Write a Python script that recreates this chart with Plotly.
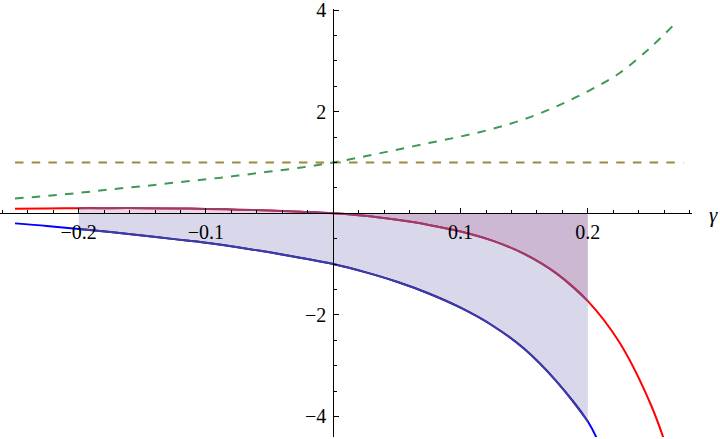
import plotly.graph_objects as go

# ---------------- data ----------------
gamma_red = [-0.25, -0.225, -0.2, -0.175, -0.15, -0.125, -0.1, -0.075, -0.05, -0.025, 0.0,
             0.025, 0.05, 0.075, 0.1, 0.125, 0.15, 0.175, 0.2, 0.225, 0.25, 0.265]
red_vals = [0.09, 0.095, 0.10, 0.10, 0.10, 0.095, 0.085, 0.07, 0.055, 0.03, 0.0,
            -0.05, -0.13, -0.23, -0.36, -0.54, -0.80, -1.18, -1.73, -2.55, -3.80, -4.85]

gamma_blue = [-0.25, -0.225, -0.2, -0.175, -0.15, -0.125, -0.1, -0.075, -0.05, -0.025, 0.0,
              0.025, 0.05, 0.075, 0.1, 0.125, 0.15, 0.175, 0.2, 0.21]
blue_vals = [-0.20, -0.25, -0.31, -0.37, -0.44, -0.51, -0.58, -0.67, -0.77, -0.88, -1.0,
             -1.16, -1.35, -1.58, -1.86, -2.21, -2.67, -3.30, -4.10, -4.60]

gamma_green = [-0.25, -0.225, -0.2, -0.175, -0.15, -0.125, -0.1, -0.075, -0.05, -0.025, 0.0,
               0.025, 0.05, 0.075, 0.1, 0.125, 0.15, 0.175, 0.2, 0.225, 0.25, 0.268]
green_vals = [0.29, 0.34, 0.40, 0.47, 0.53, 0.60, 0.667, 0.74, 0.82, 0.90, 1.0,
              1.12, 1.25, 1.38, 1.51, 1.66, 1.85, 2.10, 2.40, 2.76, 3.28, 3.72]

gamma_olive = [-0.25, 0.275]
olive_vals = [1.0, 1.0]

fill_range = (-0.2, 0.2)

x_major = [-0.2, -0.1, 0.1, 0.2]
x_major_text = ["\u22120.2", "\u22120.1", "0.1", "0.2"]
x_minor = [-0.26, -0.24, -0.22, -0.18, -0.16, -0.14, -0.12, -0.08, -0.06, -0.04, -0.02,
           0.02, 0.04, 0.06, 0.08, 0.12, 0.14, 0.16, 0.18, 0.22, 0.24, 0.26, 0.28]
y_major = [-4, -2, 2, 4]
y_major_text = ["\u22124", "\u22122", "2", "4"]
y_minor = [-4.0, -3.5, -3.0, -2.5, -1.5, -1.0, -0.5, 0.5, 1.0, 1.5, 2.5, 3.0, 3.5]

# ---------------- styles ----------------
W, H = 720, 439
PX_PER_Y = 50.8
X_RANGE = [-0.2618, 0.2818]
Y_RANGE = [-4.405, 4.02]
X_DOMAIN = [0.0, 692 / W]
Y_DOMAIN = [1 - 437 / H, 1 - (10 - 0.02 * PX_PER_Y) / H]

M_BLUE = "rgb(63,61,153)"
M_PURPLE = "rgb(153,61,113)"
M_OLIVE = "rgb(153,139,61)"
M_GREEN = "rgb(61,153,86)"

FONT = "Liberation Serif, Times New Roman, serif"
DASH = "8.5px,8.2px"
TICK_SIZE = 20


def subset(xs, ys, lo, hi):
    px, py = [], []
    for x, y in zip(xs, ys):
        if lo - 1e-9 <= x <= hi + 1e-9:
            px.append(x)
            py.append(y)
    return px, py


fig = go.Figure()

# full-range curves
fig.add_trace(go.Scatter(x=gamma_red, y=red_vals, mode="lines", line_shape="spline",
                         line=dict(color="#ff0000", width=2), showlegend=False))
fig.add_trace(go.Scatter(x=gamma_blue, y=blue_vals, mode="lines", line_shape="spline",
                         line=dict(color="#0000ff", width=2), showlegend=False))
fig.add_trace(go.Scatter(x=gamma_olive, y=olive_vals, mode="lines",
                         line=dict(color=M_OLIVE, width=2, dash=DASH), showlegend=False))
fig.add_trace(go.Scatter(x=gamma_green, y=green_vals, mode="lines", line_shape="spline",
                         line=dict(color=M_GREEN, width=2, dash=DASH), showlegend=False))

# filled part over the restricted range
bx, by = subset(gamma_blue, blue_vals, *fill_range)
rx, ry = subset(gamma_red, red_vals, *fill_range)
fig.add_trace(go.Scatter(x=bx, y=by, mode="lines", line_shape="spline", fill="tozeroy",
                         fillcolor="rgba(63,61,153,0.2)",
                         line=dict(color=M_BLUE, width=2), showlegend=False))
fig.add_trace(go.Scatter(x=rx, y=ry, mode="lines", line_shape="spline", fill="tozeroy",
                         fillcolor="rgba(153,61,113,0.2)",
                         line=dict(color=M_PURPLE, width=2), showlegend=False))

x_pos = (0 - X_RANGE[0]) / (X_RANGE[1] - X_RANGE[0]) * (X_DOMAIN[1] - X_DOMAIN[0]) + X_DOMAIN[0]
y_pos = (0 - Y_RANGE[0]) / (Y_RANGE[1] - Y_RANGE[0]) * (Y_DOMAIN[1] - Y_DOMAIN[0]) + Y_DOMAIN[0]

fig.update_layout(
    width=W, height=H,
    margin=dict(l=0, r=0, t=0, b=0, pad=0, autoexpand=False),
    paper_bgcolor="white", plot_bgcolor="white",
    font=dict(family=FONT, size=TICK_SIZE, color="black"),
    hovermode=False,
    xaxis=dict(range=X_RANGE, domain=X_DOMAIN, anchor="free", position=y_pos,
               automargin=False, ticklabeloverflow="allow",
               showgrid=False, zeroline=False, showline=True, linecolor="black", linewidth=1,
               tickmode="array", tickvals=x_major, ticktext=x_major_text,
               ticks="inside", ticklen=5, tickwidth=1, tickcolor="black",
               ticklabelstandoff=1,
               minor=dict(tickmode="array", tickvals=x_minor, ticks="inside", ticklen=3,
                          tickwidth=1, tickcolor="black", showgrid=False),
               tickfont=dict(family=FONT, size=TICK_SIZE, color="black")),
    yaxis=dict(range=Y_RANGE, domain=Y_DOMAIN, anchor="free", position=x_pos,
               automargin=False, ticklabeloverflow="allow",
               showgrid=False, zeroline=False, showline=True, linecolor="black", linewidth=1,
               tickmode="array", tickvals=y_major, ticktext=y_major_text,
               ticks="inside", ticklen=5, tickwidth=1, tickcolor="black",
               ticklabelstandoff=3,
               minor=dict(tickmode="array", tickvals=y_minor, ticks="inside", ticklen=3,
                          tickwidth=1, tickcolor="black", showgrid=False),
               tickfont=dict(family=FONT, size=TICK_SIZE, color="black")),
    annotations=[dict(text="<i>\u03b3</i>", x=713 / W, y=1 - 215 / H, xref="paper", yref="paper",
                      showarrow=False, xanchor="center", yanchor="middle",
                      font=dict(family=FONT, size=21, color="black"))],
)

fig.write_html("out.html", config={"displayModeBar": False, "staticPlot": True},
               post_script="document.body.style.margin='0';document.body.style.overflow='hidden';")
